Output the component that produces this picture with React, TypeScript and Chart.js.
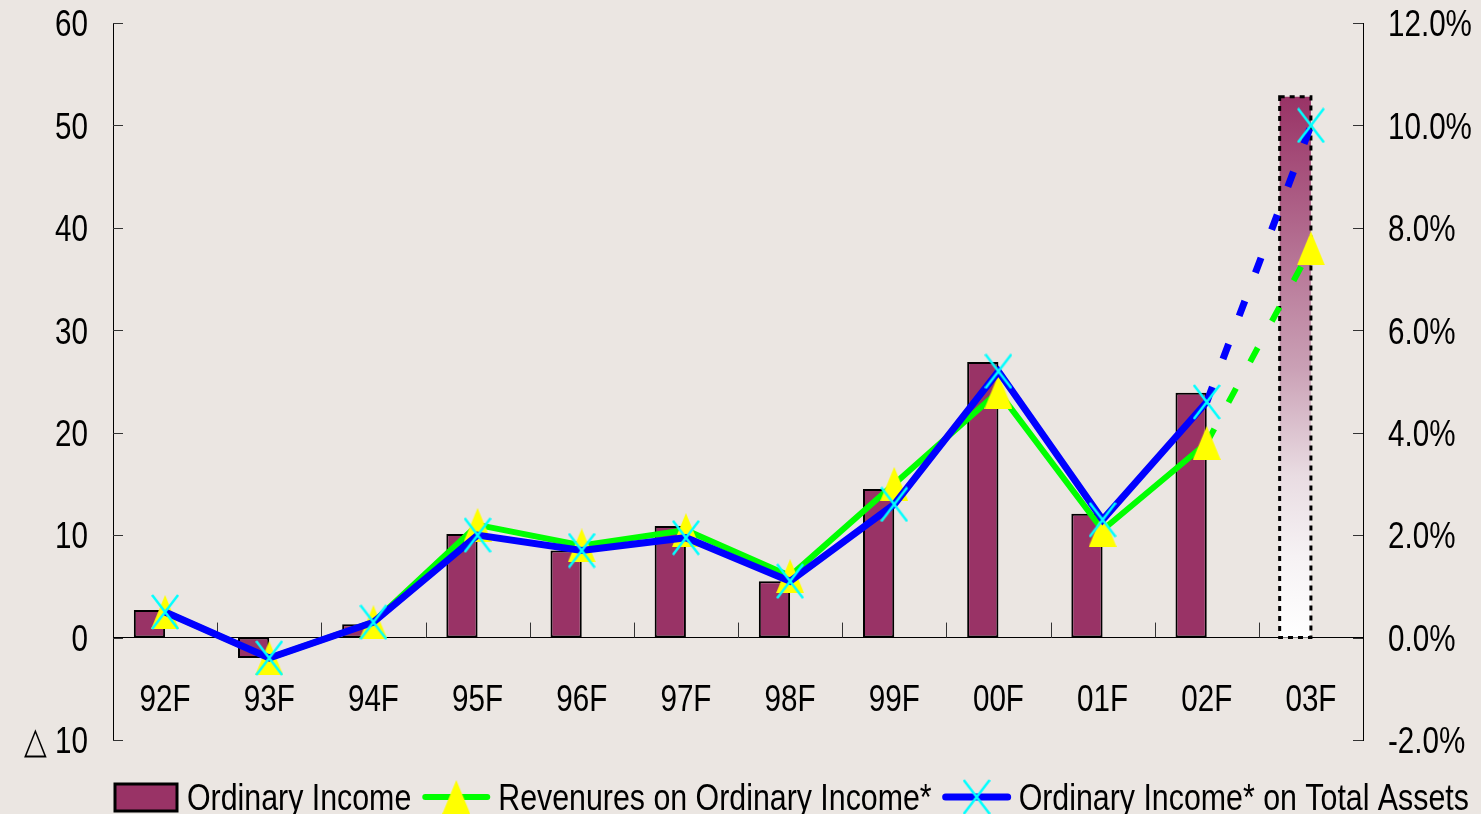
import React, { useEffect, useRef } from 'react';
import { Chart, registerables } from 'chart.js';

Chart.register(...registerables);

// ---------- data ----------
const categories = ['92F', '93F', '94F', '95F', '96F', '97F', '98F', '99F', '00F', '01F', '02F', '03F'];
const ordinaryIncome = [2.7, -2.0, 1.3, 10.1, 8.5, 10.9, 5.5, 14.5, 26.9, 12.1, 23.9, 52.8];
const revenuesOnOrdinaryIncome = [0.5, -0.4, 0.3, 2.2, 1.8, 2.1, 1.2, 3.0, 4.8, 2.1, 3.8, 7.6];
const ordinaryIncomeOnTotalAssets = [0.5, -0.4, 0.3, 2.0, 1.7, 1.95, 1.1, 2.6, 5.2, 2.3, 4.6, 10.0];
const forecastIndex = 11;
const seriesLabels = ['Ordinary Income', 'Revenures on Ordinary Income*', 'Ordinary Income* on Total Assets'];
const leftAxisRange = [-10, 60, 10];
const rightAxisRange = [-2, 12, 2];

// ---------- styles ----------
const FONT = "'Liberation Sans', Arial, sans-serif";
const FONT_SIZE = 37;
const SQUEEZE = 0.8; // horizontal squeeze to imitate the narrow gothic face
const LEGEND_SQUEEZE = 0.82;
const CAP = 0.716;
const BG = '#ebe6e2';
const PURPLE = '#993366';
const GREEN = '#00ff00';
const BLUE = '#0000ff';

const leftLabel = (v: number) => (v < 0 ? `△ ${Math.abs(v)}` : `${v}`);
const rightLabel = (v: number) => `${v.toFixed(1)}%`;

function makeTriangle(): HTMLCanvasElement {
  const c = document.createElement('canvas');
  c.width = 28;
  c.height = 34;
  const g = c.getContext('2d')!;
  g.fillStyle = '#ffff00';
  g.beginPath();
  g.moveTo(14, 0);
  g.lineTo(28, 34);
  g.lineTo(0, 34);
  g.closePath();
  g.fill();
  return c;
}

function makeCross(): HTMLCanvasElement {
  const c = document.createElement('canvas');
  c.width = 28;
  c.height = 36;
  const g = c.getContext('2d')!;
  g.strokeStyle = '#00ffff';
  g.lineWidth = 2.5;
  g.beginPath();
  g.moveTo(1, 1);
  g.lineTo(27, 35);
  g.moveTo(27, 1);
  g.lineTo(1, 35);
  g.stroke();
  return c;
}

// draws text squeezed horizontally, vertically centred on the cap height
function squeezedText(
  ctx: CanvasRenderingContext2D,
  text: string,
  x: number,
  cy: number,
  align: CanvasTextAlign,
  squeeze: number = SQUEEZE
) {
  ctx.save();
  ctx.translate(x, cy + (CAP * FONT_SIZE) / 2);
  ctx.scale(squeeze, 1);
  ctx.textAlign = align;
  ctx.textBaseline = 'alphabetic';
  ctx.fillText(text, 0, 0);
  ctx.restore();
}

const axisDecorPlugin = {
  id: 'axisDecor',
  beforeDatasetsDraw(chart: any) {
    const { ctx, scales } = chart;
    const x = scales.x, y = scales.y, y1 = scales.y1;
    ctx.save();
    ctx.strokeStyle = '#333';
    ctx.lineWidth = 1;
    ctx.beginPath();
    y.ticks.forEach((_t: any, i: number) => {
      const py = Math.round(y.getPixelForTick(i)) + 0.5;
      ctx.moveTo(y.right, py);
      ctx.lineTo(y.right + 10, py);
    });
    y1.ticks.forEach((_t: any, i: number) => {
      const py = Math.round(y1.getPixelForTick(i)) + 0.5;
      ctx.moveTo(y1.left - 10, py);
      ctx.lineTo(y1.left, py);
    });
    const zero = y.getPixelForValue(0);
    for (let i = 1; i < categories.length; i++) {
      const px = Math.round((x.getPixelForValue(i - 1) + x.getPixelForValue(i)) / 2) + 0.5;
      ctx.moveTo(px, zero);
      ctx.lineTo(px, zero - 15);
    }
    ctx.stroke();
    ctx.restore();
  },
  afterDatasetDraw(chart: any, args: any) {
    const ds = chart.data.datasets[args.index];
    if (ds.label !== seriesLabels[0]) return;
    const el = args.meta.data[forecastIndex];
    if (!el) return;
    const { x, y, base, width } = el.getProps(['x', 'y', 'base', 'width'], true);
    const ctx = chart.ctx;
    ctx.save();
    ctx.setLineDash([5, 5]);
    ctx.lineWidth = 3;
    ctx.strokeStyle = '#000';
    ctx.strokeRect(x - width / 2, y, width, base - y);
    ctx.restore();
  },
  afterDraw(chart: any) {
    const { ctx, scales, chartArea } = chart;
    const x = scales.x, y = scales.y, y1 = scales.y1;
    ctx.save();
    ctx.font = `${FONT_SIZE}px ${FONT}`;
    ctx.fillStyle = '#000';
    // axis tick labels
    y.ticks.forEach((t: any, i: number) => {
      squeezedText(ctx, leftLabel(t.value), y.right - 25, y.getPixelForTick(i), 'right');
    });
    y1.ticks.forEach((t: any, i: number) => {
      squeezedText(ctx, rightLabel(t.value), y1.left + 25, y1.getPixelForTick(i), 'left');
    });
    const zero = y.getPixelForValue(0);
    categories.forEach((c, i) => {
      squeezedText(ctx, c, x.getPixelForValue(i), zero + 60, 'center');
    });

    // legend
    const cy = chartArea.bottom + 57;
    let lx = chartArea.left + 2;
    seriesLabels.forEach((label) => {
      const ds: any = chart.data.datasets.find((d: any) => d.label === label);
      if (!ds) return;
      if (ds.type === 'bar') {
        ctx.fillStyle = PURPLE;
        ctx.fillRect(lx, cy - 13, 62, 27);
        ctx.lineWidth = 3;
        ctx.strokeStyle = '#000';
        ctx.strokeRect(lx, cy - 13, 62, 27);
        lx += 62 + 10;
      } else {
        ctx.strokeStyle = ds.borderColor;
        ctx.lineWidth = ds.borderWidth;
        ctx.lineCap = 'round';
        ctx.beginPath();
        ctx.moveTo(lx + 3, cy);
        ctx.lineTo(lx + 65, cy);
        ctx.stroke();
        const img = ds.pointStyle as HTMLCanvasElement;
        ctx.drawImage(img, lx + 34 - img.width / 2, cy - img.height / 2);
        lx += 68 + 8;
      }
      ctx.fillStyle = '#000';
      squeezedText(ctx, label, lx, cy, 'left', LEGEND_SQUEEZE);
      lx += ctx.measureText(label).width * LEGEND_SQUEEZE + 11;
    });
    ctx.restore();
  },
};

export default function App() {
  const canvasRef = useRef<HTMLCanvasElement | null>(null);

  useEffect(() => {
    const canvas = canvasRef.current;
    if (!canvas) return;
    const tri = makeTriangle();
    const cross = makeCross();
    const spacer = categories.map(() => null);

    const barFill = (c: any) => {
      if (c.type !== 'data' || c.dataIndex !== forecastIndex) return PURPLE;
      const yScale = c.chart.scales.y;
      if (!yScale) return PURPLE;
      const top = yScale.getPixelForValue(ordinaryIncome[forecastIndex]);
      const base = yScale.getPixelForValue(0);
      if (!isFinite(top) || !isFinite(base) || top === base) return PURPLE;
      const g = c.chart.ctx.createLinearGradient(0, top, 0, base);
      g.addColorStop(0, PURPLE);
      g.addColorStop(0.5, '#caa0b5');
      g.addColorStop(0.7, '#e9dce2');
      g.addColorStop(0.85, '#f6f2f4');
      g.addColorStop(1, '#ffffff');
      return g;
    };

    const forecastDash = (c: any) => (c.p1DataIndex === forecastIndex ? [16, 30] : undefined);

    const chart = new Chart(canvas, {
      type: 'bar',
      data: {
        labels: categories,
        datasets: [
          {
            type: 'line',
            label: seriesLabels[2],
            data: ordinaryIncomeOnTotalAssets,
            yAxisID: 'y1',
            borderColor: BLUE,
            backgroundColor: BLUE,
            borderWidth: 7,
            pointStyle: cross as any,
            pointRadius: 14,
            pointHoverRadius: 14,
            borderCapStyle: 'butt',
            segment: { borderDash: forecastDash },
            order: 1,
          } as any,
          {
            type: 'line',
            label: seriesLabels[1],
            data: revenuesOnOrdinaryIncome,
            yAxisID: 'y1',
            borderColor: GREEN,
            backgroundColor: GREEN,
            borderWidth: 6,
            pointStyle: tri as any,
            pointRadius: 14,
            pointHoverRadius: 14,
            borderCapStyle: 'butt',
            segment: { borderDash: forecastDash },
            order: 2,
          } as any,
          {
            type: 'bar',
            label: seriesLabels[0],
            data: ordinaryIncome,
            yAxisID: 'y',
            backgroundColor: barFill,
            borderColor: '#000',
            borderWidth: (c: any) => (c.dataIndex === forecastIndex ? 0 : 2),
            borderSkipped: false,
            barPercentage: 1,
            categoryPercentage: 0.6,
            stack: 'a',
            order: 3,
          } as any,
          {
            type: 'bar',
            label: '',
            data: spacer,
            yAxisID: 'y',
            backgroundColor: 'rgba(0,0,0,0)',
            barPercentage: 1,
            categoryPercentage: 0.6,
            stack: 'b',
            order: 4,
          } as any,
        ],
      },
      options: {
        animation: false,
        responsive: true,
        maintainAspectRatio: false,
        layout: { padding: { top: 23, bottom: 74, left: 0, right: 0 } },
        plugins: {
          legend: { display: false },
          tooltip: { enabled: false },
        },
        scales: {
          x: {
            type: 'category',
            position: { y: 0 } as any,
            offset: true,
            grid: { display: false, drawTicks: false },
            border: { display: true, color: '#000', width: 1 },
            ticks: { display: false, autoSkip: false },
          },
          y: {
            type: 'linear',
            position: 'left',
            min: leftAxisRange[0],
            max: leftAxisRange[1],
            grid: { display: false, drawTicks: false },
            border: { display: true, color: '#000', width: 1 },
            ticks: { display: false, stepSize: leftAxisRange[2] },
            afterFit: (s: any) => {
              s.width = 113;
            },
          },
          y1: {
            type: 'linear',
            position: 'right',
            min: rightAxisRange[0],
            max: rightAxisRange[1],
            grid: { display: false, drawTicks: false },
            border: { display: true, color: '#000', width: 1 },
            ticks: { display: false, stepSize: rightAxisRange[2] },
            afterFit: (s: any) => {
              s.width = 118;
            },
          },
        },
      },
      plugins: [axisDecorPlugin],
    });

    return () => chart.destroy();
  }, []);

  return (
    <div
      style={{
        position: 'absolute',
        left: 0,
        top: 0,
        width: 1481,
        height: 814,
        background: BG,
        overflow: 'hidden',
      }}
    >
      <canvas ref={canvasRef} />
    </div>
  );
}
